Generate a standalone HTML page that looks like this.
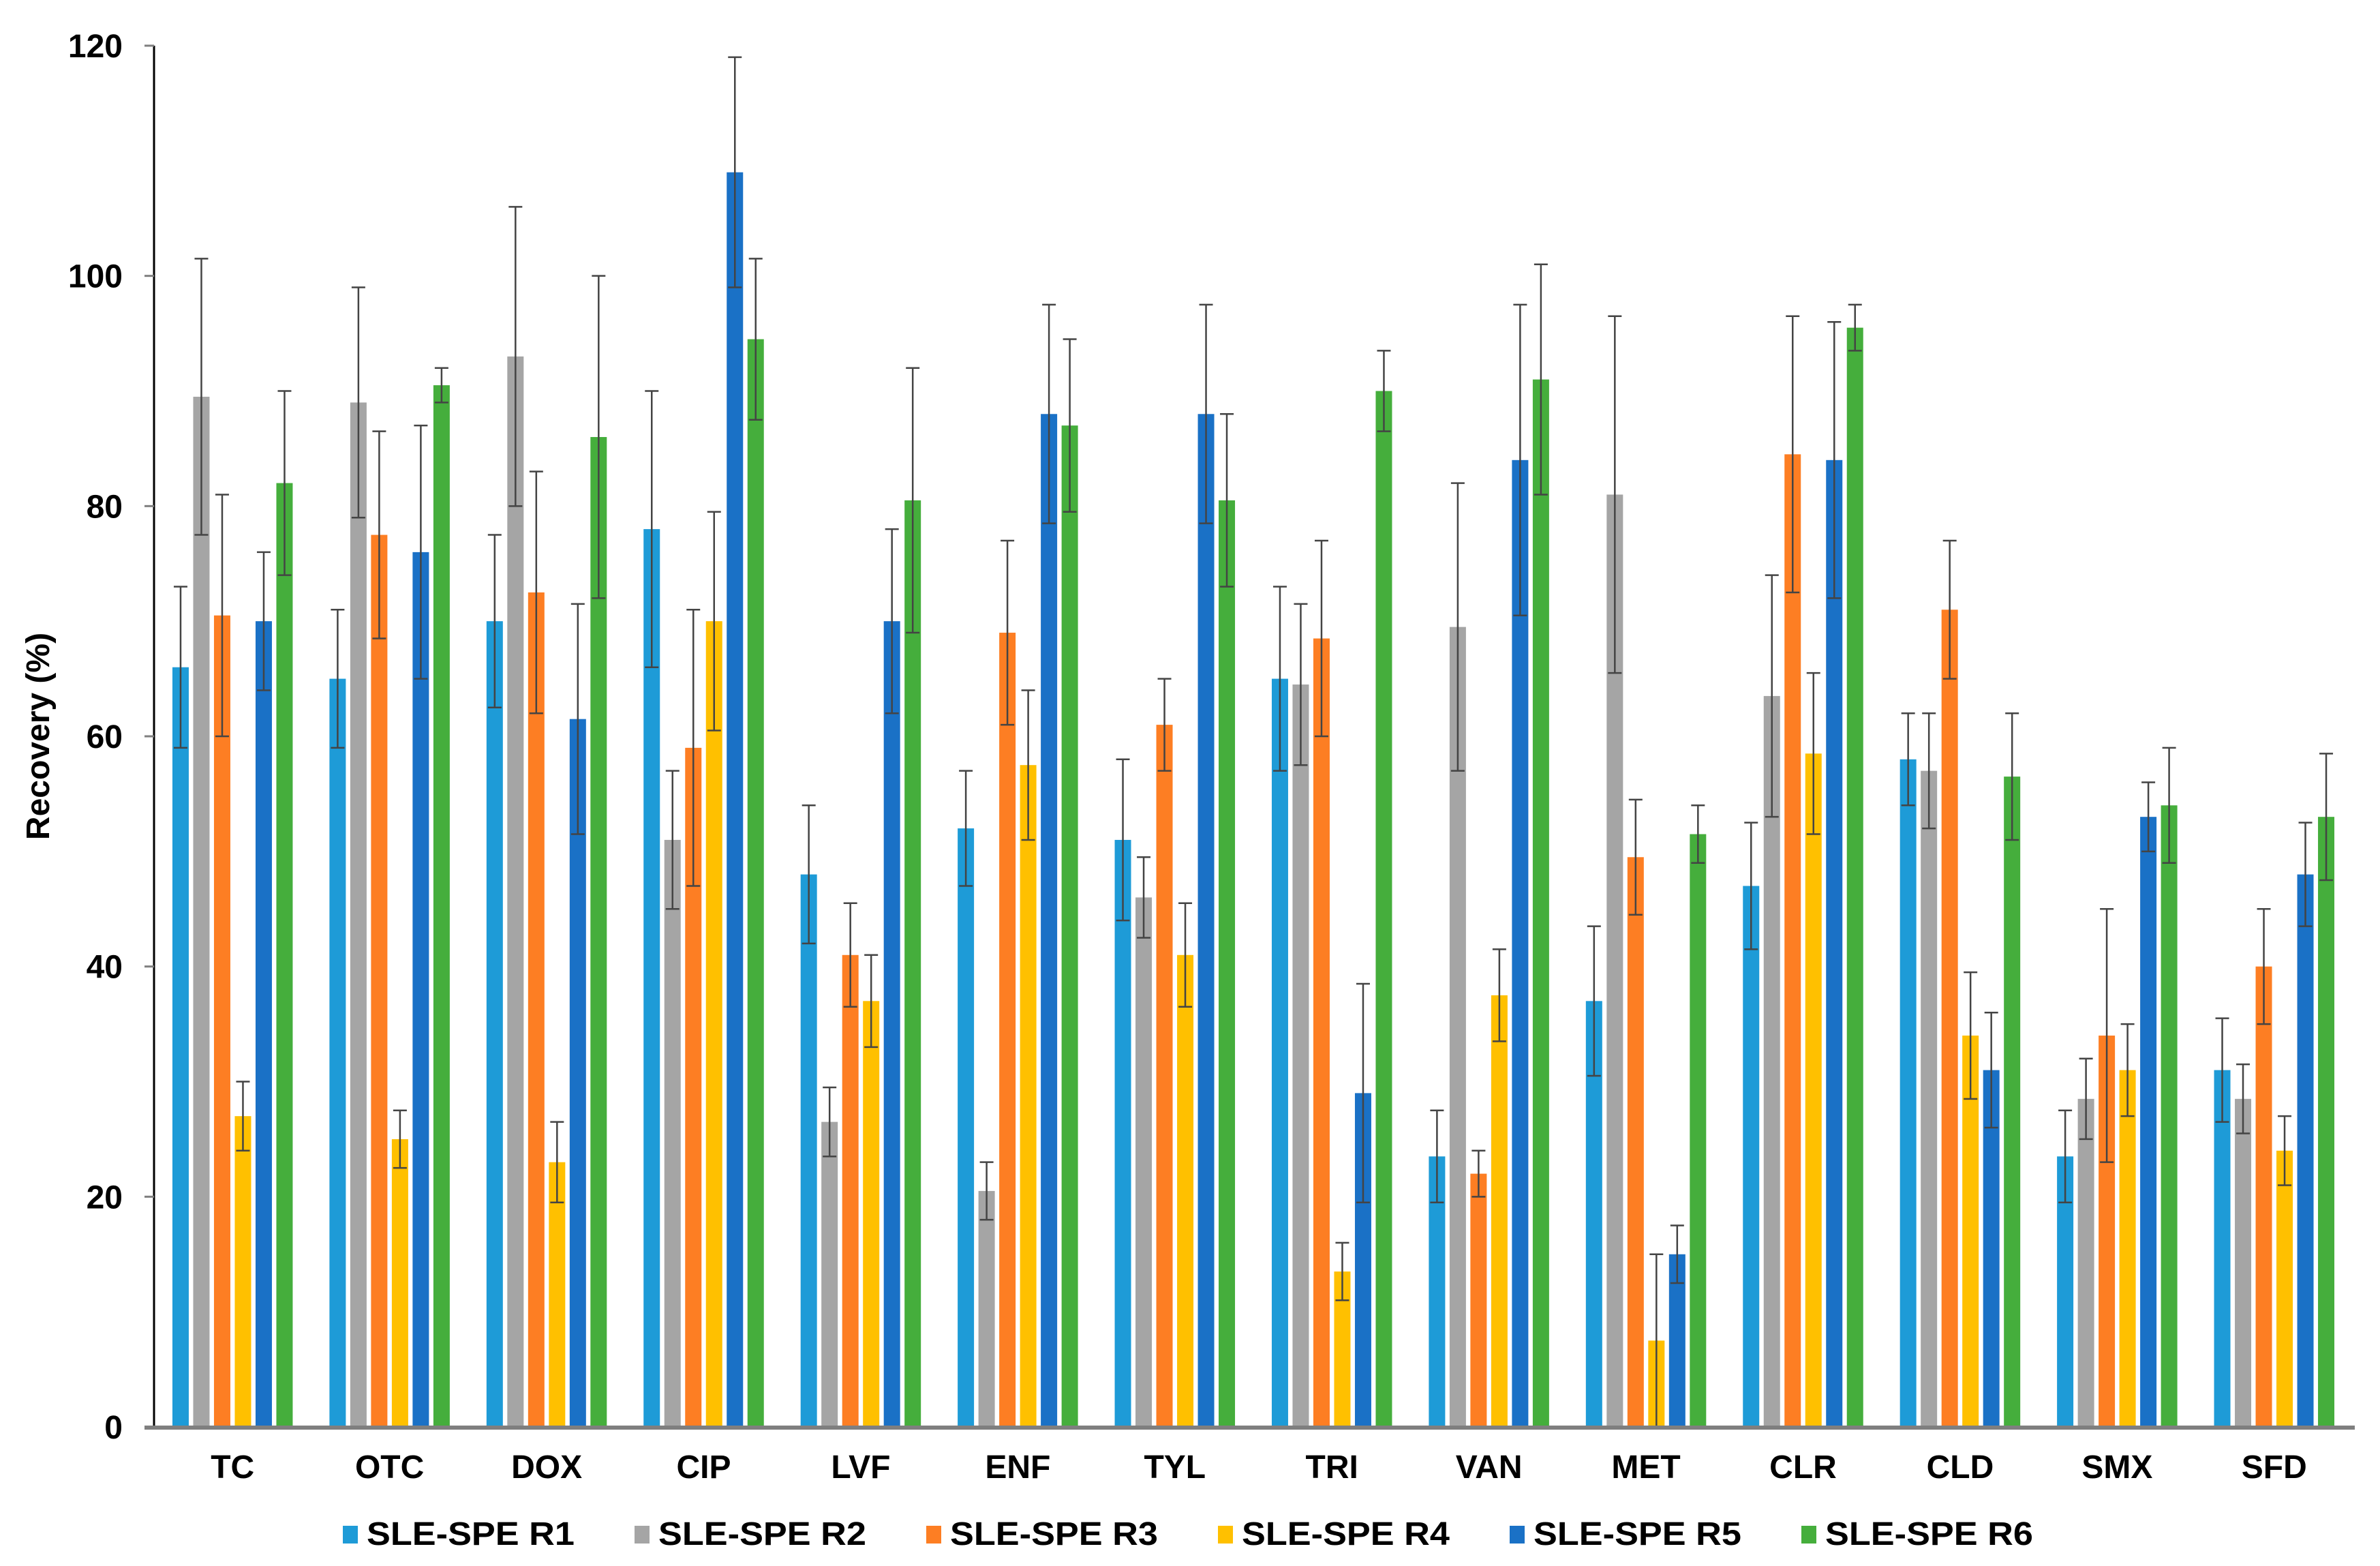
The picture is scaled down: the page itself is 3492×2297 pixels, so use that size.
<!DOCTYPE html>
<html><head><meta charset="utf-8"><style>
html,body{margin:0;padding:0;background:#fff}
svg{display:block;font-family:"Liberation Sans",Arial,sans-serif;font-weight:bold}
</style></head><body>
<svg id="chart" width="3492" height="2297" viewBox="0 0 3492 2297" xmlns="http://www.w3.org/2000/svg">
<g id="grid"></g>
<g id="bars"></g>
<g id="errs"></g>
<g id="axes"></g>
<g id="legend"></g>
<text x="0" y="0" transform="translate(72,1080) rotate(-90)" text-anchor="middle" font-size="48" fill="#000">Recovery (%)</text>
</svg>
<script>
const categories = ["TC","OTC","DOX","CIP","LVF","ENF","TYL","TRI","VAN","MET","CLR","CLD","SMX","SFD"];
const seriesNames = ["SLE-SPE R1","SLE-SPE R2","SLE-SPE R3","SLE-SPE R4","SLE-SPE R5","SLE-SPE R6"];
const seriesColors = ["#1E9BD7","#A5A5A5","#FD7E23","#FFC000","#1A71C6","#45AE3C"];
const r1 = [66,65,70,78,48,52,51,65,23.5,37,47,58,23.5,31];
const r2 = [89.5,89,93,51,26.5,20.5,46,64.5,69.5,81,63.5,57,28.5,28.5];
const r3 = [70.5,77.5,72.5,59,41,69,61,68.5,22,49.5,84.5,71,34,40];
const r4 = [27,25,23,70,37,57.5,41,13.5,37.5,7.5,58.5,34,31,24];
const r5 = [70,76,61.5,109,70,88,88,29,84,15,84,31,53,48];
const r6 = [82,90.5,86,94.5,80.5,87,80.5,90,91,51.5,95.5,56.5,54,53];
const e1 = [7,6,7.5,12,6,5,7,8,4,6.5,5.5,4,4,4.5];
const e2 = [12,10,13,6,3,2.5,3.5,7,12.5,15.5,10.5,5,3.5,3];
const e3 = [10.5,9,10.5,12,4.5,8,4,8.5,2,5,12,6,11,5];
const e4 = [3,2.5,3.5,9.5,4,6.5,4.5,2.5,4,7.5,7,5.5,4,3];
const e5 = [6,11,10,10,8,9.5,9.5,9.5,13.5,2.5,12,5,3,4.5];
const e6 = [8,1.5,14,7,11.5,7.5,7.5,3.5,10,2.5,2,5.5,5,5.5];
const yTicks = [0,20,40,60,80,100,120];

const values = [r1,r2,r3,r4,r5,r6];
const errors = [e1,e2,e3,e4,e5,e6];
const NS="http://www.w3.org/2000/svg";
const X0=226, X1=3452, Y0=2093, YTOP=67, YMAX=120;
const groupW=(X1-X0)/categories.length, pitch=30.5, barW=24;
function yScale(v){return Y0-(v/YMAX)*(Y0-YTOP);}
function xCenter(i,j){return X0+(i+0.5)*groupW+(j-2.5)*pitch;}
function mk(tag,attrs,parent){const e=document.createElementNS(NS,tag);for(const k in attrs)e.setAttribute(k,attrs[k]);parent.appendChild(e);return e;}

const gBars=document.getElementById('bars'), gErr=document.getElementById('errs'), gAx=document.getElementById('axes'), gLeg=document.getElementById('legend');

values.forEach((arr,j)=>{
  arr.forEach((v,i)=>{
    const cx=xCenter(i,j), y=yScale(v);
    const r=mk('rect',{x:cx-barW/2,y:y,width:barW,height:Y0-y,fill:seriesColors[j]},gBars);
    
    
    const e=errors[j][i], yt=yScale(v+e), yb=yScale(Math.max(0,v-e));
    const g=mk('g',{stroke:'#444',"stroke-width":2.5},gErr);
    
    
    mk('line',{x1:cx,x2:cx,y1:yt,y2:yb},g);
    mk('line',{x1:cx-10,x2:cx+10,y1:yt,y2:yt},g);
    mk('line',{x1:cx-10,x2:cx+10,y1:yb,y2:yb},g);
  });
});

const ya=mk('line',{x1:X0,x2:X0,y1:YTOP,y2:Y0,stroke:'#000',"stroke-width":3},gAx);


const xa=mk('line',{x1:212,x2:3455,y1:Y0+1,y2:Y0+1,stroke:'#7f7f7f',"stroke-width":6},gAx);


yTicks.forEach(t=>{
  const y=yScale(t);
  mk('line',{x1:212,x2:X0,y1:y,y2:y,stroke:'#7f7f7f',"stroke-width":3},gAx);
  const tx=mk('text',{x:180,y:y+17,"text-anchor":"end","font-size":48,fill:'#000'},gAx);
  tx.textContent=t;
  
  
});
categories.forEach((c,i)=>{
  const tx=mk('text',{x:X0+(i+0.5)*groupW,y:2168,"text-anchor":"middle","font-size":48,fill:'#000'},gAx);
  tx.textContent=c;
  
  
});
seriesNames.forEach((n,j)=>{
  const lx=503+j*428;
  const g=mk('g',{},gLeg);
  
  
  mk('rect',{x:lx,y:2238,width:22,height:26,fill:seriesColors[j]},g);
  const tx=mk('text',{x:lx+35,y:2266,"font-size":48,fill:'#000',textLength:305,lengthAdjust:'spacingAndGlyphs'},g);
  tx.textContent=n;
});
</script>
</body></html>
